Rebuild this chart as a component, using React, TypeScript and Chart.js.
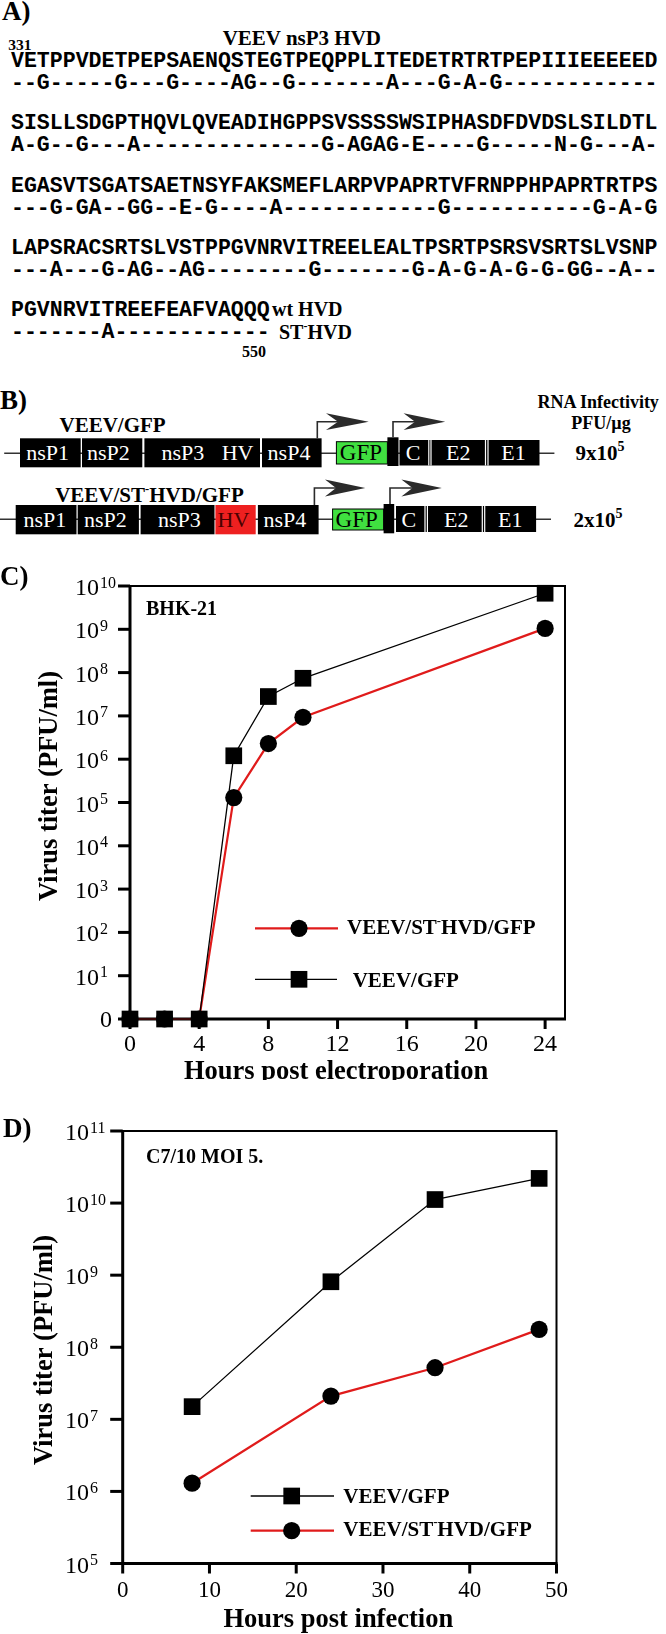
import React, { useEffect, useRef } from "react";
import { Chart, registerables } from "chart.js";

Chart.register(...registerables);

const SERIF = "'Liberation Serif', 'Times New Roman', serif";
const MONO = "'Liberation Mono', 'Courier New', monospace";

// ---------------- Panel C (BHK-21, hours post electroporation) ----------------
const hoursC = [0, 2, 4, 6, 8, 10, 24];
const titerC_GFP = [0, 0, 0, 1.2e6, 2.8e7, 7.4e7, 6.8e9];
const titerC_ST = [0, 0, 0, 1.3e5, 2.3e6, 9.3e6, 1.05e9];
const xTicksC = [0, 4, 8, 12, 16, 20, 24];
const yExpC = [0, 1, 2, 3, 4, 5, 6, 7, 8, 9, 10];

// ---------------- Panel D (C7/10 MOI 5, hours post infection) ----------------
const hoursD = [8, 24, 36, 48];
const titerD_GFP = [1.5e7, 8.1e8, 1.12e10, 2.2e10];
const titerD_ST = [1.3e6, 2.1e7, 5.2e7, 1.77e8];
const xTicksD = [0, 10, 20, 30, 40, 50];
const yExpD = [5, 6, 7, 8, 9, 10, 11];

const NAME_WT = "VEEV/GFP";
const NAME_ST = "VEEV/ST⁻HVD/GFP";

// ---------------- Panel A sequences ----------------
const seqRows = [
  "VETPPVDETPEPSAENQSTEGTPEQPPLITEDETRTRTPEPIIIEEEEED",
  "SISLLSDGPTHQVLQVEADIHGPPSVSSSSWSIPHASDFDVDSLSILDTL",
  "EGASVTSGATSAETNSYFAKSMEFLARPVPAPRTVFRNPPHPAPRTRTPS",
  "LAPSRACSRTSLVSTPPGVNRVITREELEALTPSRTPSRSVSRTSLVSNP",
  "PGVNRVITREEFEAFVAQQQ",
];
const subRows = [
  "--G-----G---G----AG--G-------A---G-A-G------------",
  "A-G--G---A--------------G-AGAG-E----G-----N-G---A-",
  "---G-GA--GG--E-G----A------------G-----------G-A-G",
  "---A---G-AG--AG--------G-------G-A-G-A-G-G-GG--A--",
  "-------A------------",
];

const STYLE_WT = { color: "#000", lineWidth: 1.3, marker: "rect", r: 11.8 };
const STYLE_ST = { color: "#e01b1b", lineWidth: 2.2, marker: "circle", r: 8.6 };

function series(xs: number[], ys: number[], name: string, st: any, floor: number) {
  return {
    label: name,
    data: xs.map((x, i) => ({ x, y: ys[i] > 0 ? ys[i] : floor })),
    borderColor: st.color,
    borderWidth: st.lineWidth,
    pointStyle: st.marker,
    pointRadius: st.r,
    pointHoverRadius: st.r,
    pointBackgroundColor: "#000",
    pointBorderColor: "#000",
    pointBorderWidth: 0,
    tension: 0,
    fill: false,
    clip: false,
  };
}

function drawName(ctx: CanvasRenderingContext2D, name: string, x: number, y: number, size: number) {
  const parts = name.split("⁻");
  let cx = x;
  ctx.textAlign = "left";
  parts.forEach((p, i) => {
    if (i > 0) {
      ctx.font = `bold ${size * 0.6}px ${SERIF}`;
      ctx.fillText("-", cx, y - size * 0.45);
      cx += ctx.measureText("-").width;
    }
    ctx.font = `bold ${size}px ${SERIF}`;
    ctx.fillText(p, cx, y);
    cx += ctx.measureText(p).width;
  });
}

function drawMarker(ctx: CanvasRenderingContext2D, st: any, x: number, y: number) {
  ctx.fillStyle = "#000";
  if (st.marker === "rect") {
    const s = 2 * st.r * Math.SQRT1_2;
    ctx.fillRect(x - s / 2, y - s / 2, s, s);
  } else {
    ctx.beginPath();
    ctx.arc(x, y, st.r, 0, Math.PI * 2);
    ctx.fill();
  }
}

function makePlugin(cfg: any) {
  const Y = (v: number) => v - cfg.top;
  return {
    id: "panelDecor",
    beforeDatasetsDraw(chart: any) {
      const { ctx, chartArea: a } = chart;
      const xs = chart.scales.x;
      const ys = chart.scales.y;
      ctx.save();
      ctx.strokeStyle = "#000";
      ctx.fillStyle = "#000";
      ctx.lineWidth = 2;
      ctx.beginPath();
      ctx.moveTo(a.left, a.top);
      ctx.lineTo(a.right, a.top);
      ctx.lineTo(a.right, a.bottom);
      ctx.stroke();
      ctx.lineWidth = 3;
      ctx.beginPath();
      ctx.moveTo(a.left, a.top - 1);
      ctx.lineTo(a.left, a.bottom);
      ctx.lineTo(a.right + 1, a.bottom);
      ctx.stroke();
      // y ticks + labels
      ctx.textBaseline = "alphabetic";
      cfg.yExps.forEach((e: number) => {
        const py = ys.getPixelForValue(Math.pow(10, e));
        ctx.lineWidth = 3;
        ctx.beginPath();
        ctx.moveTo(a.left - cfg.yTickLen, py);
        ctx.lineTo(a.left, py);
        ctx.stroke();
        if (e === 0) {
          ctx.font = `${cfg.yFont}px ${SERIF}`;
          ctx.textAlign = "right";
          ctx.fillText("0", cfg.zeroRight, py + 8);
        } else {
          ctx.textAlign = "left";
          ctx.font = `${cfg.yFont}px ${SERIF}`;
          ctx.fillText("10", cfg.yLabelX, py + 9);
          const w = ctx.measureText("10").width;
          ctx.font = `${cfg.supFont}px ${SERIF}`;
          ctx.fillText(String(e), cfg.yLabelX + w + 1, py + 1.5);
        }
      });
      // x ticks + labels
      ctx.textAlign = "center";
      ctx.font = `${cfg.xFont}px ${SERIF}`;
      cfg.xTicks.forEach((v: number) => {
        const px = xs.getPixelForValue(v);
        ctx.lineWidth = 3;
        ctx.beginPath();
        ctx.moveTo(px, a.bottom);
        ctx.lineTo(px, a.bottom + cfg.xTickLen);
        ctx.stroke();
        ctx.fillText(String(v), px, Y(cfg.xLabelBase));
      });
      ctx.restore();
    },
    afterDraw(chart: any) {
      const { ctx } = chart;
      ctx.save();
      ctx.fillStyle = "#000";
      ctx.textBaseline = "alphabetic";
      // panel letter
      ctx.textAlign = "left";
      ctx.font = `bold 27px ${SERIF}`;
      ctx.fillText(cfg.letter.text, cfg.letter.x, Y(cfg.letter.y));
      // note
      ctx.font = `bold 20px ${SERIF}`;
      ctx.fillText(cfg.note.text, cfg.note.x, Y(cfg.note.y));
      // x title
      ctx.textAlign = "center";
      ctx.font = `bold 26.5px ${SERIF}`;
      ctx.fillText(cfg.xTitle.text, cfg.xTitle.x, Y(cfg.xTitle.y));
      // y title
      ctx.save();
      ctx.translate(cfg.yTitle.x, Y(cfg.yTitle.y));
      ctx.rotate(-Math.PI / 2);
      ctx.textBaseline = "middle";
      ctx.fillText(cfg.yTitle.text, 0, 0);
      ctx.restore();
      // legend
      cfg.legend.forEach((row: any) => {
        const st = row.style;
        ctx.strokeStyle = st.color;
        ctx.lineWidth = st.lineWidth;
        ctx.beginPath();
        ctx.moveTo(row.x1, Y(row.y));
        ctx.lineTo(row.x2, Y(row.y));
        ctx.stroke();
        drawMarker(ctx, st, row.mx, Y(row.y));
        ctx.fillStyle = "#000";
        drawName(ctx, row.name, row.tx, Y(row.ty), 21);
      });
      ctx.restore();
    },
  };
}

const panelC = {
  top: 560,
  height: 520,
  area: { l: 130, r: 565, t: 586, b: 1019 },
  xMax: 25.15,
  yMin: 1,
  yMax: 1e10,
  datasets: () => [
    series(hoursC, titerC_GFP, NAME_WT, STYLE_WT, 1),
    series(hoursC, titerC_ST, NAME_ST, STYLE_ST, 1),
  ],
  xTicks: xTicksC,
  yExps: yExpC,
  yLabelX: 75,
  zeroRight: 112,
  yFont: 24,
  supFont: 16,
  xFont: 24,
  yTickLen: 12,
  xTickLen: 10,
  xLabelBase: 1051,
  letter: { text: "C)", x: 0, y: 585 },
  note: { text: "BHK-21", x: 146, y: 615 },
  xTitle: { text: "Hours post electroporation", x: 336, y: 1079 },
  yTitle: { text: "Virus titer (PFU/ml)", x: 50, y: 786 },
  legend: [
    { name: NAME_ST, style: STYLE_ST, y: 928.3, x1: 255, x2: 338, mx: 299, tx: 347, ty: 934 },
    { name: NAME_WT, style: STYLE_WT, y: 979.3, x1: 255, x2: 337, mx: 299, tx: 352.7, ty: 986.5 },
  ],
};

const panelD = {
  top: 1090,
  height: 544,
  area: { l: 122.7, r: 556.5, t: 1131, b: 1563.5 },
  xMax: 50,
  yMin: 1e5,
  yMax: 1e11,
  datasets: () => [
    series(hoursD, titerD_GFP, NAME_WT, STYLE_WT, 1e5),
    series(hoursD, titerD_ST, NAME_ST, STYLE_ST, 1e5),
  ],
  xTicks: xTicksD,
  yExps: yExpD,
  yLabelX: 65,
  zeroRight: 105,
  yFont: 24,
  supFont: 16,
  xFont: 23,
  yTickLen: 12.5,
  xTickLen: 10,
  xLabelBase: 1597,
  letter: { text: "D)", x: 3, y: 1137 },
  note: { text: "C7/10 MOI 5.", x: 146, y: 1163.3 },
  xTitle: { text: "Hours post infection", x: 338.3, y: 1627 },
  yTitle: { text: "Virus titer (PFU/ml)", x: 45, y: 1350 },
  legend: [
    { name: NAME_WT, style: STYLE_WT, y: 1496, x1: 250.7, x2: 334, mx: 291.7, tx: 343.3, ty: 1503 },
    { name: NAME_ST, style: STYLE_ST, y: 1530.7, x1: 250.7, x2: 334, mx: 291.7, tx: 343.3, ty: 1535.5 },
  ],
};

function TiterChart({ cfg }: { cfg: any }) {
  const ref = useRef<HTMLCanvasElement>(null);
  useEffect(() => {
    const canvas = ref.current;
    if (!canvas) return;
    const a = cfg.area;
    const chart = new Chart(canvas, {
      type: "line",
      data: { datasets: cfg.datasets() },
      options: {
        animation: false,
        responsive: false,
        maintainAspectRatio: false,
        events: [],
        layout: {
          padding: {
            left: a.l,
            right: 666 - a.r,
            top: a.t - cfg.top,
            bottom: cfg.top + cfg.height - a.b,
          },
        },
        plugins: { legend: { display: false }, tooltip: { enabled: false }, title: { display: false } },
        scales: {
          x: { type: "linear", min: 0, max: cfg.xMax, display: false },
          y: { type: "logarithmic", min: cfg.yMin, max: cfg.yMax, display: false },
        },
      } as any,
      plugins: [makePlugin(cfg)],
    });
    return () => chart.destroy();
  }, [cfg]);
  return (
    <canvas
      ref={ref}
      width={666}
      height={cfg.height}
      style={{ position: "absolute", left: 0, top: cfg.top, width: 666, height: cfg.height }}
    />
  );
}

function Arrow({ sx, sy, hy, back, notch, tip }: any) {
  return (
    <g>
      <path d={`M${sx} ${sy} V${hy} H${notch + 1}`} stroke="#2b2b2b" strokeWidth={1.6} fill="none" />
      <polygon points={`${tip},${hy} ${back},${hy - 8.4} ${notch},${hy} ${back},${hy + 8.4}`} fill="#2b2b2b" />
    </g>
  );
}

function PanelAB() {
  const T = (props: any) => (
    <text fontFamily={SERIF} fontWeight="bold" fill="#000" {...props} />
  );
  const W = (props: any) => (
    <text fontFamily={SERIF} fontSize={22} fill="#fff" {...props} />
  );
  return (
    <svg width={666} height={560} style={{ position: "absolute", left: 0, top: 0 }}>
      {/* Panel A */}
      <T x={2} y={20} fontSize={27}>A)</T>
      <T x={8.3} y={50} fontSize={15.5}>331</T>
      <T x={222.7} y={45} fontSize={21}>VEEV nsP3 HVD</T>
      {seqRows.map((s, i) => (
        <text key={"s" + i} x={11} y={67 + i * 62.25} fontFamily={MONO} fontWeight="bold" fontSize={21.55} fill="#000">
          {s}
        </text>
      ))}
      {subRows.map((s, i) => (
        <text key={"d" + i} x={11} y={89 + i * 62.25} fontFamily={MONO} fontWeight="bold" fontSize={21.55} fill="#000">
          {s}
        </text>
      ))}
      <T x={272} y={316} fontSize={20}>wt HVD</T>
      <T x={279} y={339} fontSize={20}>
        ST<tspan fontSize={12} dy={-9}>-</tspan>
        <tspan dy={9}>HVD</tspan>
      </T>
      <T x={242} y={357} fontSize={16}>550</T>

      {/* Panel B */}
      <T x={0} y={409} fontSize={27}>B)</T>
      <T x={537.4} y={408} fontSize={18}>RNA Infectivity</T>
      <T x={601} y={429} fontSize={18} textAnchor="middle">PFU/µg</T>
      <T x={575.6} y={460} fontSize={21}>
        9x10<tspan fontSize={14} dy={-9}>5</tspan>
      </T>
      <T x={573.5} y={527} fontSize={21}>
        2x10<tspan fontSize={14} dy={-9}>5</tspan>
      </T>

      {/* Construct 1: VEEV/GFP */}
      <T x={59.5} y={431.7} fontSize={21}>VEEV/GFP</T>
      <line x1={4.2} y1={453.3} x2={554.4} y2={453.3} stroke="#333" strokeWidth={1.6} />
      {[[20, 80.7], [82, 142.3], [144.4, 260], [262, 321.6]].map(([a, b], i) => (
        <rect key={"c1" + i} x={a} y={438.3} width={b - a} height={29} fill="#000" />
      ))}
      <rect x={336.4} y={441.7} width={51} height={22.3} fill="#40e040" stroke="#000" strokeWidth={1} />
      <rect x={387.4} y={437.3} width={11.1} height={28.7} fill="#000" />
      <rect x={399.5} y={440} width={140} height={25.5} fill="#000" />
      <line x1={428.8} y1={440} x2={428.8} y2={465.5} stroke="#fff" strokeWidth={1.2} />
      <line x1={431} y1={440} x2={431} y2={465.5} stroke="#fff" strokeWidth={1.2} />
      <line x1={485.5} y1={440} x2={485.5} y2={465.5} stroke="#fff" strokeWidth={1.2} />
      <line x1={488} y1={440} x2={488} y2={465.5} stroke="#fff" strokeWidth={1.2} />
      <W x={26.3} y={460}>nsP1</W>
      <W x={87} y={460}>nsP2</W>
      <W x={161.4} y={460}>nsP3</W>
      <W x={221.7} y={460}>HV</W>
      <W x={267.6} y={460}>nsP4</W>
      <W x={339.8} y={460} fill="#000" fontSize={23}>GFP</W>
      <W x={405.7} y={460}>C</W>
      <W x={446} y={460}>E2</W>
      <W x={501.3} y={460}>E1</W>
      <Arrow sx={317.3} sy={438.3} hy={421.7} back={326} notch={338} tip={368.7} />
      <Arrow sx={393} sy={437.3} hy={421.7} back={403.6} notch={415} tip={445.2} />

      {/* Construct 2: VEEV/ST-HVD/GFP */}
      <T x={55.2} y={501.7} fontSize={21}>
        VEEV/ST<tspan fontSize={12.5} dy={-9}>-</tspan>
        <tspan dy={9}>HVD/GFP</tspan>
      </T>
      <line x1={0} y1={519.3} x2={551} y2={519.3} stroke="#333" strokeWidth={1.6} />
      {[[15.7, 76.5], [77.7, 138.9], [140.6, 214.5], [257.9, 318.6]].map(([a, b], i) => (
        <rect key={"c2" + i} x={a} y={505} width={b - a} height={29.3} fill="#000" />
      ))}
      <rect x={215.4} y={505} width={40.3} height={29.3} fill="#ee2020" />
      <rect x={332.6} y={509} width={51} height={21} fill="#40e040" stroke="#000" strokeWidth={1} />
      <rect x={383.6} y={504} width={10.6} height={29.3} fill="#000" />
      <rect x={396} y={506} width={140.1} height={26} fill="#000" />
      <line x1={425} y1={506} x2={425} y2={532} stroke="#fff" strokeWidth={1.2} />
      <line x1={427.4} y1={506} x2={427.4} y2={532} stroke="#fff" strokeWidth={1.2} />
      <line x1={482.3} y1={506} x2={482.3} y2={532} stroke="#fff" strokeWidth={1.2} />
      <line x1={484.7} y1={506} x2={484.7} y2={532} stroke="#fff" strokeWidth={1.2} />
      <W x={23.4} y={526.7}>nsP1</W>
      <W x={84} y={526.7}>nsP2</W>
      <W x={158} y={526.7}>nsP3</W>
      <W x={217.5} y={526.7} fill="#4a0000">HV</W>
      <W x={263.4} y={526.7}>nsP4</W>
      <W x={335.6} y={526.7} fill="#000" fontSize={23}>GFP</W>
      <W x={401.4} y={526.7}>C</W>
      <W x={444} y={526.7}>E2</W>
      <W x={498} y={526.7}>E1</W>
      <Arrow sx={314.4} sy={505} hy={488} back={325} notch={336} tip={365.3} />
      <Arrow sx={390} sy={504} hy={488} back={401.4} notch={412.5} tip={441.8} />
    </svg>
  );
}

export default function App() {
  return (
    <div
      style={{
        position: "absolute",
        left: 0,
        top: 0,
        width: 666,
        height: 1634,
        background: "#fff",
        overflow: "hidden",
      }}
    >
      <PanelAB />
      <TiterChart cfg={panelC} />
      <TiterChart cfg={panelD} />
    </div>
  );
}
